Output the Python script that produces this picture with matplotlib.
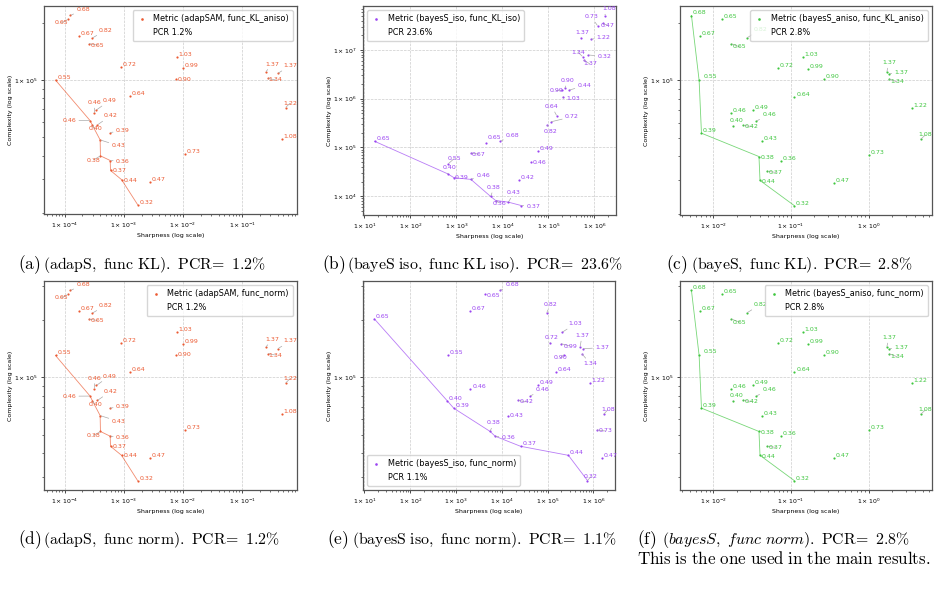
import numpy as np
import matplotlib
matplotlib.use("Agg")
import matplotlib.pyplot as plt
from matplotlib.ticker import FuncFormatter, NullFormatter

plt.rcParams['mathtext.fontset'] = 'cm'

# ---------------------------------------------
# data : one entry per model (label = gen. gap)
# ---------------------------------------------
gaps = ["0.68", "0.65", "0.67", "0.82", "0.65", "0.72", "1.03", "0.99", "0.90", "0.55",
        "0.64", "0.46", "0.49", "0.46", "0.42", "0.40", "0.39", "0.43", "0.38", "0.36",
        "0.37", "0.44", "0.47", "0.32", "0.73", "1.37", "1.37", "1.34", "1.22", "1.08"]

# sharpness
sharp_adapsam = [1.25e-4, 1.14e-4, 1.75e-4, 2.95e-4, 2.55e-4, 8.8e-4, 7.98e-3, 9.96e-3, 7.67e-3, 7.0e-5,
                 1.27e-3, 3.19e-4, 3.45e-4, 2.69e-4, 3.59e-4, 2.95e-4, 5.81e-4, 3.98e-4, 4.03e-4, 5.89e-4,
                 5.96e-4, 9.16e-4, 2.77e-3, 1.71e-3, 1.09e-2, 0.252, 0.403, 0.276, 0.543, 0.477]
sharp_bayes_iso = [9.04e3, 4.39e3, 2.06e3, 9.5e4, 16.6, 1.12e5, 2.08e5, 1.95e5, 2.28e5, 668,
                   1.52e5, 2.07e3, 6.04e4, 4.10e4, 2.28e4, 646, 889, 1.35e4, 5.56e3, 7.15e3,
                   2.56e4, 2.84e5, 1.52e6, 7.39e5, 1.18e6, 5.1e5, 5.84e5, 5.56e5, 8.45e5, 1.66e6]
sharp_bayes_aniso = [5.25e-3, 1.28e-2, 6.73e-3, 2.69e-2, 1.71e-2, 6.76e-2, 0.141, 0.167, 0.265, 6.59e-3,
                     0.111, 1.71e-2, 3.22e-2, 3.59e-2, 2.44e-2, 1.81e-2, 7.06e-3, 4.28e-2, 3.88e-2, 7.39e-2,
                     4.98e-2, 4.00e-2, 0.361, 0.110, 1.01, 1.71, 1.85, 1.81, 3.59, 4.65]

# complexity
cplx_kl_aniso = [2.19e5, 2.09e5, 1.708e5, 1.667e5, 1.557e5, 1.165e5, 1.325e5, 1.151e5, 1.012e5, 1.0e5,
                 8.21e4, 6.71e4, 6.96e4, 6.12e4, 5.81e4, 5.78e4, 5.29e4, 4.84e4, 3.99e4, 3.77e4,
                 3.34e4, 2.99e4, 2.91e4, 2.21e4, 4.07e4, 1.106e5, 1.084e5, 1.02e5, 7.16e4, 4.91e4]
cplx_kl_iso = [1.34e5, 1.24e5, 7.69e4, 2.94e5, 1.34e5, 3.34e5, 1.09e6, 1.50e6, 1.62e6, 4.63e4,
               4.45e5, 2.21e4, 8.46e4, 5.02e4, 2.10e4, 2.88e4, 2.39e4, 7.54e3, 9.86e3, 8.15e3,
               6.44e3, 1.50e6, 3.54e7, 7.89e6, 3.12e7, 1.74e7, 6.22e6, 7.29e6, 1.66e7, 5.09e7]
cplx_norm = [2.85e5, 2.72e5, 2.22e5, 2.17e5, 2.02e5, 1.51e5, 1.72e5, 1.50e5, 1.315e5, 1.30e5,
             1.07e5, 8.72e4, 9.05e4, 7.96e4, 7.55e4, 7.51e4, 6.88e4, 6.29e4, 5.19e4, 4.90e4,
             4.34e4, 3.89e4, 3.78e4, 2.87e4, 5.29e4, 1.44e5, 1.41e5, 1.33e5, 9.31e4, 6.38e4]

pcr = {"a": "1.2%", "b": "23.6%", "c": "2.8%", "d": "1.2%", "e": "1.1%", "f": "2.8%"}

# --------------------------------------------
# label offsets (points) where labels were moved
# --------------------------------------------
off_adap = {0: (4.3, 2.4), 1: (-9.6, -4.3), 3: (4.6, 3.8), 4: (1.4, -2.9), 8: (1.2, -1.9),
            11: (-5, 5.5), 12: (4.1, 4.8), 13: (-19.9, -1.9), 14: (4.1, 4.6), 15: (-3.1, -4.3),
            16: (4.3, -0.5), 17: (8.2, -6), 18: (-10, -4.8), 19: (4.1, -2.4), 20: (1.2, -1.7),
            21: (1.2, -2.2), 25: (-0.2, 3.6), 26: (3.8, 3.8), 27: (0.5, -2.9), 28: (-1.7, 1.4)}
off_aniso = {3: (4.8, 4.3), 4: (1.2, -4.1), 9: (2.9, 0.7), 13: (4.3, 3.1), 14: (1.2, -2.6),
             15: (-2.6, 2.2), 18: (1.2, -2.4), 20: (1.2, -2.6), 21: (1.2, -2.4), 25: (-3.4, 4.8),
             26: (3.6, -1.2), 27: (1.2, -4.1), 29: (-1.4, 1.4)}
off_iso_kl = {0: (4.1, 2.6), 1: (1.4, 2.2), 2: (0.7, -2.6), 3: (-2.9, -6.5), 5: (10.3, 1.9),
              6: (2.4, -2.9), 7: (-8.9, -2.2), 8: (-2.9, 3.8), 9: (-0.7, 1.9), 10: (-8.4, 4.8),
              11: (3.8, 1.2), 13: (1.2, -2.2), 15: (-3.6, 2.4), 16: (0.2, -1.4), 17: (-1, 4.8),
              18: (-2.6, 4.6), 19: (-2.2, -3.6), 20: (3.8, -2.4), 21: (6, 1.4), 22: (-1.2, -3.6),
              23: (6.5, -2.9), 24: (-9.6, 4.6), 25: (-4.1, 2.6), 26: (-0.5, -4.6), 27: (-8.4, 1.4),
              28: (4.1, -0.5), 29: (-1.9, 2.9)}
off_iso_norm = {0: (4.1, 2.4), 1: (0.7, -2.4), 3: (-2.4, 4.3), 5: (-3.6, 2.4), 6: (4.3, 4.3),
                7: (1.7, -3.6), 8: (-7.7, -4.3), 13: (4.3, 2.6), 14: (1.2, -2.9), 17: (1.2, -2),
                18: (-2.6, 4.3), 19: (4.6, -2.9), 23: (-2.4, 1), 24: (1.2, -2.6), 25: (-3.6, 6.2),
                26: (8.9, -1), 27: (1, -8.9), 29: (-1.9, 1.4)}

C_ORANGE = "#ec5a32"
C_PURPLE = "#9b45f2"
C_GREEN = "#3fc63f"

W, H = 940, 589

panels = [
    # key, x, y, colour, legend text, legend loc, rect px (l, t, r, b), offsets
    ("a", sharp_adapsam, cplx_kl_aniso, C_ORANGE, "Metric (adapSAM, func_KL_aniso)", "upper right", (44, 6, 297, 214), off_adap),
    ("b", sharp_bayes_iso, cplx_kl_iso, C_PURPLE, "Metric (bayesS_iso, func_KL_iso)", "upper left", (363, 6, 616, 215), off_iso_kl),
    ("c", sharp_bayes_aniso, cplx_kl_aniso, C_GREEN, "Metric (bayesS_aniso, func_KL_aniso)", "upper right", (680, 6, 932, 215), off_aniso),
    ("d", sharp_adapsam, cplx_norm, C_ORANGE, "Metric (adapSAM, func_norm)", "upper right", (44, 281, 297, 490), off_adap),
    ("e", sharp_bayes_iso, cplx_norm, C_PURPLE, "Metric (bayesS_iso, func_norm)", "lower left", (363, 281, 615, 490), off_iso_norm),
    ("f", sharp_bayes_aniso, cplx_norm, C_GREEN, "Metric (bayesS_aniso, func_norm)", "upper right", (680, 281, 932, 490), off_aniso),
]


def pareto(x, y):
    order = np.argsort(x, kind="stable")
    fx, fy, best = [], [], np.inf
    for i in order:
        if y[i] < best:
            best = y[i]
            fx.append(x[i])
            fy.append(y[i])
    return fx, fy


sci = FuncFormatter(lambda v, p: r"$\mathdefault{1\times10^{%d}}$" % int(round(np.log10(v))))

fig = plt.figure(figsize=(W / 100, H / 100), dpi=100)

for key, xs, ys, col, leg, loc, (l, t, r, b), offs in panels:
    ax = fig.add_axes([l / W, 1 - b / H, (r - l) / W, (b - t) / H])
    ax.set_xscale("log")
    ax.set_yscale("log")
    ax.scatter(xs, ys, s=2.5, color=col, zorder=3, label=leg, linewidths=0)
    ax.plot([], [], " ", label="PCR " + pcr[key])
    fx, fy = pareto(np.array(xs), np.array(ys))
    ax.plot(fx, fy, color=col, lw=0.6, alpha=0.7, zorder=2)

    for i, g in enumerate(gaps):
        dx, dy = offs.get(i, (1.2, 0))
        moved = np.hypot(dx - 1.2, dy) > 2.5
        ax.annotate(g, (xs[i], ys[i]), xytext=(dx, dy), textcoords="offset points",
                    ha="left", va="bottom", fontsize=4.5, color=col, zorder=4,
                    arrowprops=dict(arrowstyle="-", color="#aaaaaa", lw=0.5,
                                    shrinkA=0, shrinkB=0.5) if moved else None)

    ax.grid(True, which="major", ls="--", lw=0.5, color="#cccccc")
    ax.xaxis.set_major_formatter(sci)
    ax.yaxis.set_major_formatter(sci)
    ax.xaxis.set_minor_formatter(NullFormatter())
    ax.yaxis.set_minor_formatter(NullFormatter())
    ax.tick_params(which="major", labelsize=4.4, length=2.5, width=0.5, pad=2)
    ax.tick_params(which="minor", length=1.5, width=0.4)
    for s in ax.spines.values():
        s.set_color("#555555")
        s.set_linewidth(0.9)
    ax.set_xlabel("Sharpness (log scale)", fontsize=4.5, labelpad=2.5)
    ax.set_ylabel("Complexity (log scale)", fontsize=4.5, labelpad=1)
    ax.legend(loc=loc, fontsize=5.9, markerscale=1.2, handlelength=1.2,
              borderpad=0.5, labelspacing=0.6, handletextpad=0.8)

# --------------------------
# captions
# --------------------------
cap_size = 11.4
lab_size = 12.5
captions = [
    (18, 265, "(a)", r"$\mathrm{(adapS,\ func\ KL).\ PCR\!=\ 1.2\%}$"),
    (322, 265, "(b)", r"$\mathrm{(bayeS\ iso,\ func\ KL\ iso).\ PCR\!=\ 23.6\%}$"),
    (666, 265, "(c)", r"$\mathrm{(bayeS,\ func\ KL).\ PCR\!=\ 2.8\%}$"),
    (18, 540, "(d)", r"$\mathrm{(adapS,\ func\ norm).\ PCR\!=\ 1.2\%}$"),
    (327, 540, "(e)", r"$\mathrm{(bayesS\ iso,\ func\ norm).\ PCR\!=\ 1.1\%}$"),
    (637, 540, "(f)", r"$\mathit{(bayesS,\ func\ norm).}\ \mathrm{PCR\!=\ 2.8\%}$"),
]
for x, y, tag, txt in captions:
    fig.text(x / W, 1 - y / H, r"$\mathrm{%s}$" % tag, fontsize=lab_size, va="center", ha="left")
    fig.text((x + 25) / W, 1 - y / H, txt, fontsize=cap_size, va="center", ha="left")
fig.text(637 / W, 1 - 559 / H, r"$\mathrm{This\ is\ the\ one\ used\ in\ the\ main\ results.}$",
         fontsize=12.2, va="center", ha="left")

fig.savefig("out.png", dpi=100)
